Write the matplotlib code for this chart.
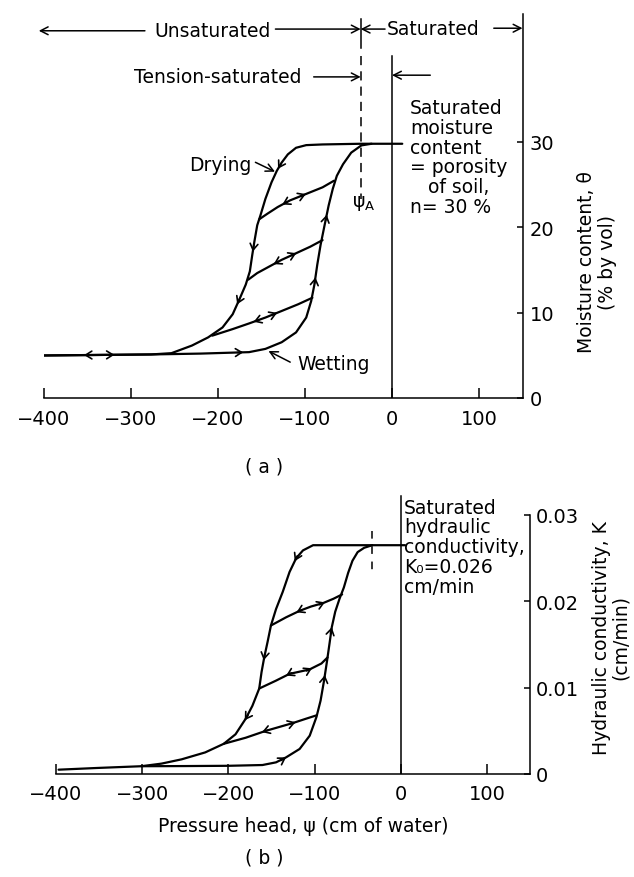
import numpy as np
import matplotlib
matplotlib.use("Agg")
import matplotlib.pyplot as plt

plt.rcParams['font.family'] = ['DejaVu Sans']
FS = 13.5
TFS = 14

# ---------------- panel (a): moisture content theta (% by vol) vs pressure head psi (cm)
a_drying_psi = [11.8, -36, -79.8, -98.6, -110.3, -119.7, -126.8, -132.4, -138.5, -145.5, -151.2,
                -154.9, -158.2, -160.6, -163.4, -168.1, -174.6, -183.1, -194.8, -211.3, -230.0,
                -253.5, -277.0, -400.0]
a_drying_theta = [29.77, 29.77, 29.69, 29.61, 29.3, 28.53, 27.57, 26.6, 25.25, 23.32, 21.39,
                  20.23, 18.3, 16.76, 14.83, 13.28, 11.74, 9.81, 8.26, 7.1, 6.14,
                  5.25, 5.1, 4.98]
a_wetting_psi = [-400.0, -277.0, -220.0, -164.3, -145.5, -126.8, -110.3, -98.6, -92.9, -89.2, -85.9,
                 -82.1, -77.5, -72.8, -68.1, -63.4, -56.3, -46.9, -35.2, -23.5]
a_wetting_theta = [4.98, 5.1, 5.2, 5.37, 5.75, 6.53, 7.68, 9.42, 11.35, 13.28, 15.6,
                   17.92, 20.23, 22.55, 24.48, 26.02, 27.37, 28.73, 29.58, 29.77]
a_scan1_psi = [-66.7, -79.8, -98.6, -117.4, -131.4, -143.2, -152.6]
a_scan1_theta = [25.44, 24.67, 23.9, 23.13, 22.36, 21.58, 20.93]
a_scan2_psi = [-79.8, -93.9, -110.3, -126.8, -140.8, -154.9, -165.2]
a_scan2_theta = [18.49, 17.72, 16.95, 16.18, 15.41, 14.63, 13.86]
a_scan3_psi = [-91.5, -108.0, -126.8, -145.5, -164.3, -183.1, -206.6]
a_scan3_theta = [11.74, 10.97, 10.19, 9.42, 8.73, 8.07, 7.3]
# arrows: (curve, psi position, direction along psi)
a_arrows = [('drying', -131, -1), ('drying', -160, -1), ('drying', -178, -1), ('drying', -354, -1),
            ('wetting', -319, 1), ('wetting', -171, 1), ('wetting', -88, 1), ('wetting', -75, 1),
            ('scan1', -126, -1), ('scan1', -99, 1), ('scan2', -136, -1), ('scan2', -110, 1),
            ('scan3', -159, -1), ('scan3', -132, 1)]
a_psiA = -36
a_yticks = [0, 10, 20, 30]

# ---------------- panel (b): hydraulic conductivity K (cm/min) vs pressure head psi (cm)
b_drying_psi = [5.0, -33.0, -101.7, -113.4, -121.3, -129.0, -136.9, -144.7, -150.6, -154.5, -158.4,
                -161.5, -164.2, -172.1, -179.9, -191.7, -205.3, -226.9, -254.2, -277.7, -301.1,
                -352.0, -397.0]
b_drying_K = [0.0265, 0.0265, 0.0265, 0.0259, 0.0250, 0.0234, 0.0211, 0.0191, 0.0172, 0.0153, 0.0135,
              0.0118, 0.0099, 0.0079, 0.0064, 0.0046, 0.0035, 0.0025, 0.0017, 0.0012, 0.0009,
              0.0007, 0.0005]
b_wetting_psi = [-301.0, -250.0, -200.0, -160.4, -144.7, -133.0, -117.3, -105.6, -97.8, -93.0, -89.0,
                 -85.5, -82.5, -80.0, -76.0, -71.0, -66.0, -61.0, -56.0, -50.0, -42.4, -33.0]
b_wetting_K = [0.0009, 0.00092, 0.00095, 0.00104, 0.00135, 0.00193, 0.0029, 0.00444, 0.0066, 0.0085, 0.0108,
               0.0131, 0.0152, 0.0170, 0.0188, 0.0203, 0.0216, 0.0233, 0.0247, 0.0257, 0.0262, 0.0265]
b_scan1_psi = [-150.6, -133.0, -117.3, -104.0, -90.0, -78.0, -68.0]
b_scan1_K = [0.0172, 0.01815, 0.0189, 0.0194, 0.0198, 0.0203, 0.0208]
b_scan2_psi = [-164.2, -145.0, -129.0, -106.0, -92.0, -84.9]
b_scan2_K = [0.0099, 0.0108, 0.0116, 0.0121, 0.0128, 0.0135]
b_scan3_psi = [-205.3, -179.9, -156.5, -125.2, -110.0, -97.5]
b_scan3_K = [0.0035, 0.0042, 0.0050, 0.0059, 0.0064, 0.0068]
b_arrows = [('drying', -123, -1), ('drying', -159, -1), ('drying', -181, -1),
            ('wetting', -133, 1), ('wetting', -88, 1), ('wetting', -80, 1),
            ('scan1', -121, -1), ('scan1', -88, 1), ('scan2', -133, -1), ('scan2', -103, 1),
            ('scan3', -161, -1), ('scan3', -122, 1)]
b_psiA = -33
b_yticks = [0, 0.01, 0.02, 0.03]
b_yticklabels = ['0', '0.01', '0.02', '0.03']

x_ticks = [-400, -300, -200, -100, 0, 100]
x_ticklabels = ['\u2212400', '\u2212300', '\u2212200', '\u2212100', '0', '100']

W, H = 634, 878
fig = plt.figure(figsize=(W / 100, H / 100), dpi=100)


def px_axes(l, r, b, t):
    return fig.add_axes([l / W, 1 - b / H, (r - l) / W, (b - t) / H])


CURVE_LW = 1.6


def draw_arrow(ax, xs, ys, x0, sgn, L=6):
    xs = np.asarray(xs, float)
    ys = np.asarray(ys, float)
    o = np.argsort(xs)
    xs, ys = xs[o], ys[o]
    y0 = np.interp(x0, xs, ys)
    d = 0.6 * sgn
    y1 = np.interp(x0 + d, xs, ys)
    p0 = ax.transData.transform((x0, y0))
    p1 = ax.transData.transform((x0 + d, y1))
    v = p1 - p0
    v = v / np.hypot(*v)
    ax.annotate('', xy=(x0, y0), xytext=(-v[0] * L, -v[1] * L), textcoords='offset pixels',
                arrowprops=dict(arrowstyle='->,head_length=0.45,head_width=0.28',
                                lw=1.2, color='k', shrinkA=0, shrinkB=0))


def style_axes(ax, xlim, ylim):
    ax.set_xlim(*xlim)
    ax.set_ylim(*ylim)
    for s in ['left', 'top']:
        ax.spines[s].set_visible(False)
    for s in ['right', 'bottom']:
        ax.spines[s].set_linewidth(1.1)
    ax.yaxis.tick_right()
    ax.set_xticks(x_ticks)
    ax.set_xticklabels(x_ticklabels, fontsize=TFS)
    ax.tick_params(axis='x', direction='in', length=7, width=1.1, pad=8)
    ax.tick_params(axis='y', direction='in', length=4, width=1.1, pad=5, labelsize=TFS)
    ax.patch.set_visible(False)


# ================= panel (a)
ax1 = px_axes(44, 522.5, 399, 14.7)
style_axes(ax1, (-400, 150), (0, 45))
ax1.set_yticks(a_yticks)
ax1.set_yticklabels([str(v) for v in a_yticks])

curves_a = {'drying': (a_drying_psi, a_drying_theta), 'wetting': (a_wetting_psi, a_wetting_theta),
            'scan1': (a_scan1_psi, a_scan1_theta), 'scan2': (a_scan2_psi, a_scan2_theta),
            'scan3': (a_scan3_psi, a_scan3_theta)}
for xs, ys in curves_a.values():
    ax1.plot(xs, ys, color='k', lw=CURVE_LW, solid_capstyle='round', solid_joinstyle='round')
for name, x0, sgn in a_arrows:
    draw_arrow(ax1, *curves_a[name], x0, sgn)

# zero line and psi_A dashed line
ax1.plot([0, 0], [0, 40.1], color='k', lw=1.1)
ax1.plot([a_psiA, a_psiA], [44.4, 41.0], color='k', lw=1.1)
ax1.plot([a_psiA, a_psiA], [40.0, 23.3], color='k', lw=1.1, dashes=(6, 4))
ax1.text(a_psiA + 3, 22.9, r'$\mathregular{\psi_A}$', fontsize=FS, ha='center', va='center')

# top annotations
arrow_kw = dict(arrowstyle='->,head_length=0.55,head_width=0.28', lw=1.1, color='k',
                shrinkA=0, shrinkB=0)
ax1.text(-206, 43.0, 'Unsaturated', fontsize=FS, ha='center', va='center')
ax1.annotate('', xy=(-406, 43.0), xytext=(-284, 43.0), arrowprops=arrow_kw, annotation_clip=False)
ax1.annotate('', xy=(a_psiA, 43.2), xytext=(-134, 43.2), arrowprops=arrow_kw)
ax1.annotate('', xy=(a_psiA, 43.2), xytext=(-8, 43.2), arrowprops=arrow_kw)
ax1.text(-6, 43.3, 'Saturated', fontsize=FS, ha='left', va='center')
ax1.annotate('', xy=(150, 43.3), xytext=(117, 43.3), arrowprops=arrow_kw, annotation_clip=False)
ax1.text(-200, 37.6, 'Tension-saturated', fontsize=FS, ha='center', va='center')
ax1.annotate('', xy=(a_psiA, 37.6), xytext=(-90, 37.6), arrowprops=arrow_kw)
ax1.annotate('', xy=(0, 37.8), xytext=(44, 37.8), arrowprops=arrow_kw)

ax1.text(20.7, 35.1, 'Saturated\nmoisture\ncontent\n= porosity\n   of soil,\nn= 30 %',
         fontsize=FS, ha='left', va='top', linespacing=1.05)
ax1.text(-196.8, 27.4, 'Drying', fontsize=FS, ha='center', va='center')
ax1.annotate('', xy=(-134.5, 26.5), xytext=(-157, 27.6), arrowprops=arrow_kw)
ax1.text(-109, 4.0, 'Wetting', fontsize=FS, ha='left', va='center')
ax1.annotate('', xy=(-142, 5.5), xytext=(-117, 4.2), arrowprops=arrow_kw)

fig.text(597 / W, 1 - 262 / H, 'Moisture content, \u03b8\n(% by vol)', rotation=90,
         fontsize=FS, ha='center', va='center', multialignment='center', linespacing=1.15)
fig.text(264 / W, 1 - 467 / H, '( a )', fontsize=FS, ha='center', va='center')

# ================= panel (b)
ax2 = px_axes(56, 530, 775, 494.4)
style_axes(ax2, (-400, 150), (0, 0.0325))
ax2.spines['right'].set_bounds(0, 0.03)
ax2.set_yticks(b_yticks)
ax2.set_yticklabels(b_yticklabels)
ax2.tick_params(axis='x', pad=7)
ax2.tick_params(axis='y', pad=4)

curves_b = {'drying': (b_drying_psi, b_drying_K), 'wetting': (b_wetting_psi, b_wetting_K),
            'scan1': (b_scan1_psi, b_scan1_K), 'scan2': (b_scan2_psi, b_scan2_K),
            'scan3': (b_scan3_psi, b_scan3_K)}
for xs, ys in curves_b.values():
    ax2.plot(xs, ys, color='k', lw=CURVE_LW, solid_capstyle='round', solid_joinstyle='round')
for name, x0, sgn in b_arrows:
    draw_arrow(ax2, *curves_b[name], x0, sgn)

ax2.plot([0, 0], [0, 0.0322], color='k', lw=1.1)
ax2.plot([b_psiA, b_psiA], [0.0282, 0.0233], color='k', lw=1.1, dashes=(5, 5))
ax2.text(4, 0.0320, 'Saturated\nhydraulic\nconductivity,\nK\u2080=0.026\ncm/min',
         fontsize=FS, ha='left', va='top', linespacing=1.05)
ax2.text(-113, -0.0060, 'Pressure head, \u03c8 (cm of water)', fontsize=FS,
         ha='center', va='center', clip_on=False)

fig.text(611 / W, 1 - 638 / H, 'Hydraulic conductivity, K\n(cm/min)', rotation=90,
         fontsize=FS, ha='center', va='center', multialignment='center', linespacing=1.0)
fig.text(264 / W, 1 - 858 / H, '( b )', fontsize=FS, ha='center', va='center')

fig.savefig('out.png', dpi=100)
